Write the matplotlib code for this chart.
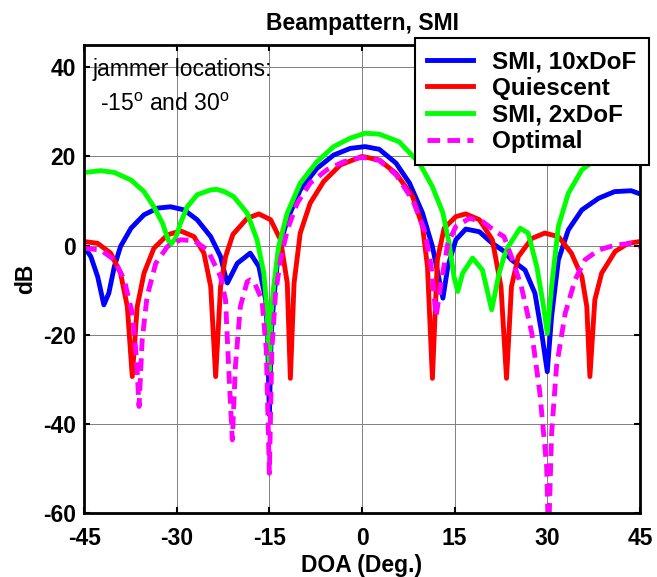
import matplotlib
matplotlib.use('Agg')
import matplotlib.pyplot as plt

plt.rcParams['font.family'] = ['Liberation Sans', 'DejaVu Sans']
plt.rcParams['mathtext.fontset'] = 'custom'
plt.rcParams['mathtext.rm'] = 'Liberation Sans'
plt.rcParams['axes.unicode_minus'] = False

# SMI, 10xDoF (blue)
smi10_doa = [-45, -43.9, -42.8, -41.8, -41.0, -40.1, -39.1, -37.4, -35.3, -33.1,
             -31.0, -28.8, -26.7, -24.5, -22.9, -22.1, -21.8, -20.2, -18.1, -16.7,
             -15.6, -15.3, -15.0, -14.7, -14.3, -13.5, -12.1, -10.0, -7.3, -4.6,
             -1.9, 0.5, 2.8, 5.5, 7.7, 9.8, 11.4, 12.5, 13.1, 13.9,
             15.2, 16.8, 19.0, 21.1, 23.0, 24.2, 26.4, 28.0, 29.1, 30.0,
             30.7, 31.8, 33.4, 35.6, 38.3, 40.9, 43.6, 45]
smi10_db = [-0.2, -2.5, -7.0, -13.3, -10.7, -4.7, -0.2, 3.9, 6.9, 8.4,
            8.7, 8.0, 5.8, 2.0, -2.5, -7.0, -8.4, -4.0, -1.7, -4.7,
            -12.2, -20.0, -38.0, -20.0, -12.2, -1.0, 5.8, 12.5, 17.3, 20.3,
            21.8, 22.2, 21.6, 18.5, 14.0, 7.3, -0.2, -7.7, -11.8, -4.7,
            1.3, 3.7, 3.1, 0.5, -1.3, -3.2, -5.5, -10.7, -19.7, -28.3,
            -15.9, -3.2, 3.5, 8.0, 10.6, 12.1, 12.3, 11.6]

# Quiescent (red)
quies_doa = [-45, -42.8, -40.7, -39.1, -38.0, -37.2, -36.4, -35.3, -33.7, -31.5,
             -29.4, -27.2, -25.6, -24.5, -23.7, -22.9, -22.1, -20.9, -18.6, -16.7,
             -14.8, -13.2, -12.1, -11.6, -11.0, -10.0, -8.4, -6.2, -3.5, 0,
             2.8, 5.5, 8.2, 9.8, 10.6, 11.4, 12.2, 13.3, 15.2, 16.8,
             19.0, 21.1, 22.5, 23.4, 24.2, 25.3, 27.5, 29.6, 31.8, 33.9,
             35.6, 36.4, 36.9, 37.7, 38.8, 41.0, 43.1, 45]
quies_db = [0.9, 0.5, -1.7, -6.2, -13.7, -29.4, -13.7, -6.2, -0.6, 2.4,
            3.3, 2.0, -1.7, -9.2, -29.4, -9.2, -2.5, 2.5, 6.1, 7.1,
            5.8, 1.3, -8.4, -29.8, -8.4, 2.8, 9.5, 14.4, 18.1, 20.0,
            19.2, 16.2, 11.0, 4.3, -4.7, -29.8, -3.2, 3.9, 6.5, 7.1,
            5.8, 1.3, -9.2, -29.8, -9.2, -2.5, 1.6, 2.8, 2.0, -1.7,
            -7.0, -13.7, -29.4, -12.2, -6.2, -1.3, 0.5, 0.9]

# SMI, 2xDoF (green)
smi2_doa = [-45, -42.3, -40.1, -37.4, -35.3, -33.7, -32.3, -31.4, -31.0, -30.2,
            -29.4, -28.3, -26.7, -24.5, -23.5, -22.3, -20.8, -18.6, -17.0, -15.9,
            -15.4, -15.0, -14.7, -14.3, -13.5, -12.1, -10.0, -7.3, -4.6, -1.9,
            0.5, 2.8, 6.0, 9.3, 11.4, 13.1, 14.1, 14.9, 15.5, 16.3,
            17.9, 19.5, 21.0, 22.2, 23.0, 23.7, 25.6, 26.9, 28.3, 29.4,
            30.0, 30.7, 31.8, 33.4, 35.6, 37.7, 40.0, 42.5, 45]
smi2_db = [16.4, 16.8, 16.4, 14.7, 12.1, 8.7, 5.0, 1.3, 0.2, 1.6,
           5.0, 8.7, 11.4, 12.5, 12.6, 12.1, 11.0, 7.3, 1.3, -6.2,
           -14.0, -28.0, -15.0, -9.2, -0.2, 7.3, 14.0, 18.8, 22.2, 24.1,
           25.2, 25.0, 23.3, 18.5, 13.2, 7.3, 0.5, -7.0, -10.3, -6.2,
           -2.8, -5.5, -14.4, -6.2, -2.5, -0.2, 3.9, 2.8, -4.7, -13.7,
           -19.7, -9.2, 4.3, 11.7, 17.0, 19.2, 21.5, 23.0, 24.0]

# Optimal (magenta dashed)
opt_doa = [-45, -42.3, -40.1, -38.5, -37.2, -36.5, -36.1, -35.6, -34.8, -33.4,
           -31.5, -29.4, -27.2, -25.0, -22.9, -22.1, -21.6, -21.0, -20.5, -19.7,
           -18.6, -18.1, -17.5, -16.2, -15.5, -15.0, -14.6, -14.0, -13.2, -12.1,
           -10.5, -8.4, -5.7, -3.0, 0, 2.8, 5.5, 8.2, 10.1, 11.2,
           12.0, 12.8, 13.9, 15.2, 17.4, 19.5, 21.7, 23.0, 24.2, 25.8,
           27.5, 28.8, 29.9, 30.2, 30.7, 31.5, 32.9, 34.5, 36.1, 38.3,
           41.0, 43.6, 45]
opt_db = [-0.6, -1.0, -3.2, -7.7, -15.2, -25.6, -36.1, -21.2, -11.4, -4.0,
          -0.2, 1.3, 1.1, -1.0, -7.0, -12.2, -27.1, -43.6, -27.1, -13.7,
          -8.1, -7.7, -8.1, -12.2, -23.4, -51.1, -23.4, -10.7, -3.2, 3.5,
          9.5, 14.0, 17.0, 18.8, 19.8, 19.1, 15.9, 10.2, 3.5, -4.7,
          -15.9, -8.4, 0.5, 4.3, 6.1, 5.4, 3.1, 2.0, -2.5, -9.2,
          -19.7, -33.1, -49.6, -66.0, -42.1, -27.1, -15.2, -7.7, -3.2, -1.0,
          0.1, 0.5, -0.2]

x_ticks = [-45, -30, -15, 0, 15, 30, 45]
y_ticks = [-60, -40, -20, 0, 20, 40]

fig = plt.figure(figsize=(6.57, 5.77), dpi=100)
ax = fig.add_axes([0.128, 0.111, 0.846, 0.811])

lw = 3.5
ax.plot(smi10_doa, smi10_db, color='#0000ff', lw=lw, label='SMI, 10xDoF')
ax.plot(quies_doa, quies_db, color='#ff0000', lw=lw, label='Quiescent')
ax.plot(smi2_doa, smi2_db, color='#00ff00', lw=lw, label='SMI, 2xDoF')
ax.plot(opt_doa, opt_db, color='#ff00ff', lw=lw, dashes=(2.6, 1.5), label='Optimal')

ax.set_xlim(-45, 45)
ax.set_ylim(-60, 45)
ax.set_xticks(x_ticks)
ax.set_yticks(y_ticks)
ax.grid(True, color='#808080', lw=0.7)
ax.set_axisbelow(True)

for s in ax.spines.values():
    s.set_linewidth(2)
ax.tick_params(direction='in', length=4, width=1.5, top=True, right=True,
               labelsize=16.5)
ax.tick_params(axis='x', pad=10)
ax.tick_params(axis='y', pad=6)
for lab in ax.get_xticklabels() + ax.get_yticklabels():
    lab.set_fontweight('bold')

ax.set_title('Beampattern, SMI', fontsize=16.5, fontweight='bold', pad=11)
ax.set_xlabel('DOA (Deg.)', fontsize=16.5, fontweight='bold', labelpad=3)
ax.set_ylabel('dB', fontsize=16.5, fontweight='bold', labelpad=4)

ax.text(-43.6, 38.0, 'jammer locations:', fontsize=16.5, va='baseline')
ax.text(-42.5, 30.1, r'-15$^{\mathrm{o}}$ and 30$^{\mathrm{o}}$', fontsize=16.5,
        va='baseline')

leg = ax.legend(loc='upper right', bbox_to_anchor=(1.016, 1.015),
                prop={'weight': 'bold', 'size': 17.5}, frameon=True, fancybox=False,
                framealpha=1, edgecolor='black', handlelength=1.9,
                borderpad=0.5, labelspacing=0.15, handletextpad=0.8,
                borderaxespad=0)
leg.get_frame().set_linewidth(1.5)

fig.savefig('out.png', dpi=100)
